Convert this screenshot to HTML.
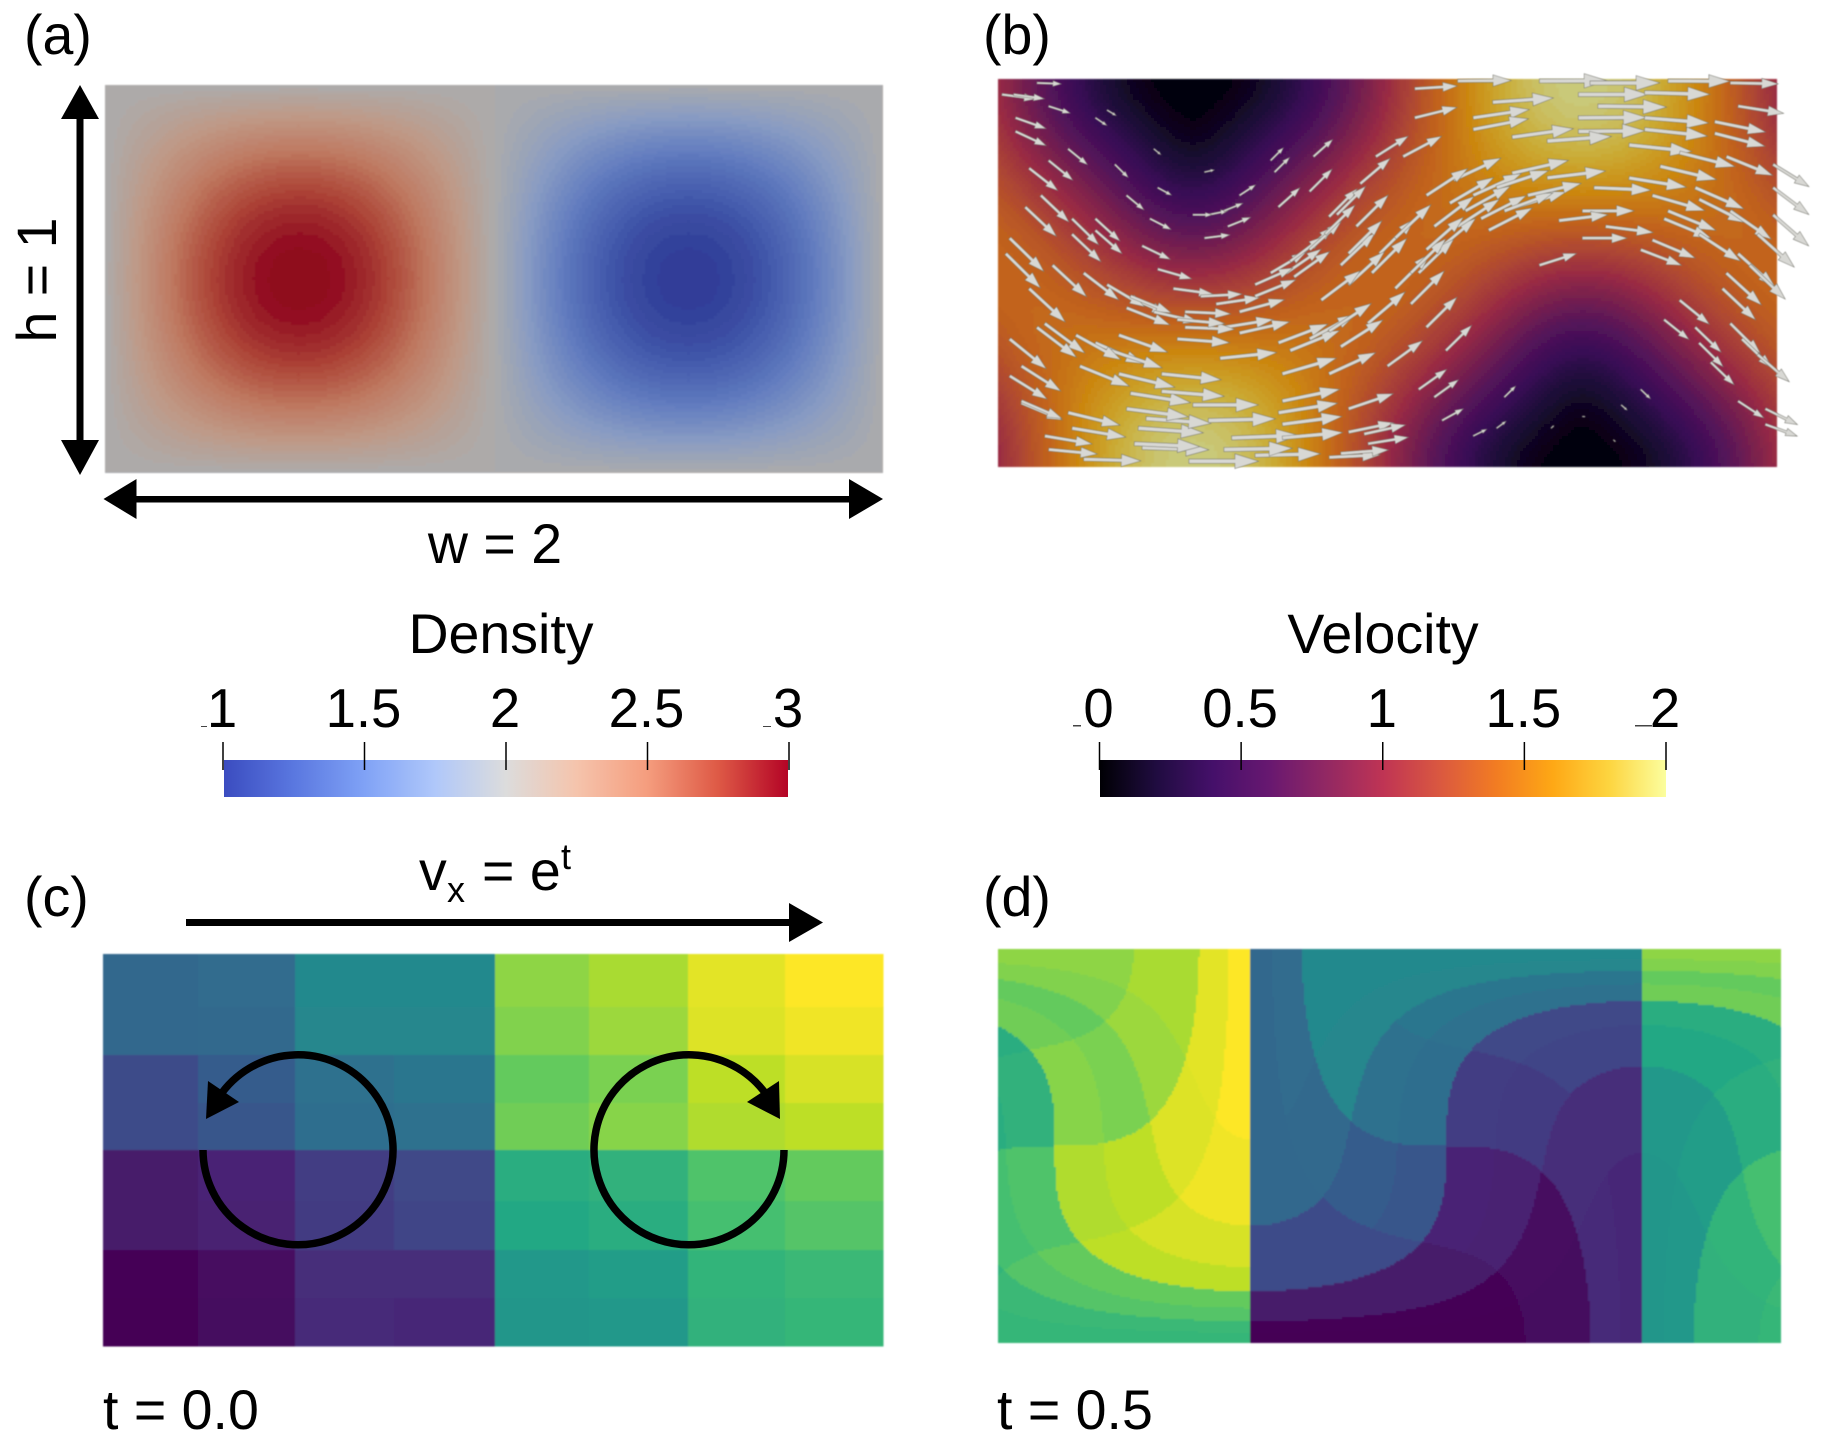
<!DOCTYPE html>
<html lang="en">
<head>
<meta charset="utf-8">
<title>Density and velocity fields</title>
<style>
html,body{margin:0;padding:0;background:#fff;width:1827px;height:1445px;overflow:hidden}
svg{display:block}
text{font-family:"Liberation Sans",sans-serif;font-size:55.5px;fill:#000}
</style>
</head>
<body>
<svg id="figure" xmlns="http://www.w3.org/2000/svg" width="1827" height="1445" viewBox="0 0 1827 1445">
  <defs>
    <filter id="soft" x="-1%" y="-1%" width="102%" height="102%"><feGaussianBlur stdDeviation="0.9"/></filter>
    <filter id="softArrow" x="-5%" y="-5%" width="110%" height="110%"><feGaussianBlur stdDeviation="0.5"/></filter>
    <linearGradient id="densityGradient" x1="0" x2="1" y1="0" y2="0"></linearGradient>
    <linearGradient id="velocityGradient" x1="0" x2="1" y1="0" y2="0"></linearGradient>
  </defs>

  <text x="24" y="54">(a)</text>
  <text x="983" y="54">(b)</text>
  <text x="24" y="916">(c)</text>
  <text x="983" y="916">(d)</text>

  <g id="panelA" filter="url(#soft)"></g>
  <g id="panelB" filter="url(#soft)"></g>
  <g id="arrowsB" filter="url(#softArrow)"></g>
  <g id="panelC" filter="url(#soft)"></g>
  <g id="panelD" filter="url(#soft)"></g>

  <g>
    <rect x="76.5" y="115" width="7" height="328" fill="#000"/>
    <polygon points="80,85 99,119 61,119" fill="#000"/>
    <polygon points="80,475 99,440 61,440" fill="#000"/>
  </g>
  <text x="0" y="0" text-anchor="middle" transform="translate(56 280) rotate(-90)">h = 1</text>

  <g>
    <rect x="132" y="496" width="722" height="6.5" fill="#000"/>
    <polygon points="103.5,499 136.5,479 136.5,519" fill="#000"/>
    <polygon points="883,499 849,479 849,519" fill="#000"/>
  </g>
  <text x="495" y="563" text-anchor="middle">w = 2</text>

  <text x="501" y="653" text-anchor="middle">Density</text>
  <text x="1383" y="653" text-anchor="middle">Velocity</text>
  <rect x="224" y="760" width="564" height="37" fill="url(#densityGradient)"/>
  <rect x="1100" y="760" width="566" height="37" fill="url(#velocityGradient)"/>
  <g id="colorbarTicks" style="font-size:54.5px"></g>
  <g fill="#444">
    <rect x="201" y="726" width="6" height="1"/>
    <rect x="763" y="726" width="8" height="1"/>
    <rect x="1073" y="725" width="8" height="1.5"/>
    <rect x="1635" y="725" width="17" height="1.5"/>
  </g>

  <text x="419" y="890">v</text>
  <text x="447" y="902" style="font-size:36px">x</text>
  <text x="482" y="890">= e</text>
  <text x="561" y="869" style="font-size:36px">t</text>
  <g>
    <rect x="186" y="919" width="608" height="7" fill="#000"/>
    <polygon points="823,922.5 789,903 789,942" fill="#000"/>
  </g>

  <g>
    <path d="M203 1150 A95 95 0 1 0 219 1097" fill="none" stroke="#000" stroke-width="7.5"/>
    <polygon points="206,1119 208,1081 239,1102" fill="#000"/>
  </g>
  <g>
    <path d="M784 1150 A95 95 0 1 1 768 1097" fill="none" stroke="#000" stroke-width="7.5"/>
    <polygon points="780,1119 779,1081 747,1102" fill="#000"/>
  </g>

  <text x="103" y="1429">t = 0.0</text>
  <text x="997" y="1429">t = 0.5</text>
</svg>

<script>
// ---- Colormap data ----
const coolwarmStops = ["#3b4cc0", "#5a78e0", "#80a2f6", "#b0c8fa", "#dcdcdc", "#f5c4ac", "#f59d7e", "#de5a46", "#b40426"];
const viridisStops = ["#440154", "#482475", "#414487", "#355f8d", "#2a788e", "#21918c", "#22a884", "#44bf70", "#7ad151", "#bddf26", "#fde725"];
const infernoStops = ["#000004", "#200c40", "#45106a", "#681870", "#922863", "#bf3454", "#da5840", "#f27c22", "#fea815", "#fdd540", "#fbfe9e"];

// ---- Colorbar data ----
const densityTicks = [1, 1.5, 2, 2.5, 3];
const velocityTicks = [0, 0.5, 1, 1.5, 2];
const densityRange = [1, 3];
const velocityRange = [0, 2];

// ---- Field profiles, sampled every 0.05 across the domain (0..2) ----
const sinProfile = [0, .156, .309, .454, .588, .707, .809, .891, .951, .988, 1, .988, .951, .891, .809, .707, .588, .454, .309, .156, 0, -.156, -.309, -.454, -.588, -.707, -.809, -.891, -.951, -.988, -1, -.988, -.951, -.891, -.809, -.707, -.588, -.454, -.309, -.156, 0];
const cosProfile = [1, .988, .951, .891, .809, .707, .588, .454, .309, .156, 0, -.156, -.309, -.454, -.588, -.707, -.809, -.891, -.951, -.988, -1, -.988, -.951, -.891, -.809, -.707, -.588, -.454, -.309, -.156, 0, .156, .309, .454, .588, .707, .809, .891, .951, .988, 1];
const densityMean = 2;
const densityAmplitude = 1;
const backgroundFlow = 1;
const advectionOffset = 0.645;
const elapsedTime = 0.5;

// ---- Panel (c) tracer values, 8 rows x 8 columns, top row first ----
const tracerRow0 = [.33, .35, .47, .47, .83, .87, .96, 1.0];
const tracerRow1 = [.33, .34, .46, .46, .81, .85, .95, .98];
const tracerRow2 = [.23, .29, .37, .39, .76, .80, .90, .94];
const tracerRow3 = [.23, .27, .36, .37, .78, .82, .88, .90];
const tracerRow4 = [.07, .10, .18, .22, .62, .64, .72, .76];
const tracerRow5 = [.07, .09, .17, .20, .60, .62, .70, .73];
const tracerRow6 = [.01, .04, .13, .13, .53, .55, .65, .67];
const tracerRow7 = [.00, .03, .12, .11, .52, .53, .64, .66];
const tracerRows = [tracerRow0, tracerRow1, tracerRow2, tracerRow3, tracerRow4, tracerRow5, tracerRow6, tracerRow7];
const tracerColEdges = [0, .244, .492, .746, 1.005, 1.246, 1.5, 1.749, 2];
const tracerRowEdges = [0, .135, .258, .38, .5, .63, .755, .878, 1];

// ---- Panel (b) arrow seed points in domain units (x 0..2, y 0..1 upward) ----
const seedX = [1.18,1.39,1.52,1.72,1.88,1.07,.01,1.49,1.66,1.27,1.07,1.54,1.90,1.22,1.49,1.22,1.66,1.84,1.49,1.66,1.32,1.84,1.41,1.62,1.75,1.87,
  1.17,1.32,1.41,1.70,1.62,1.53,1.33,1.50,1.44,1.56,1.50,1.68,1.65,1.39,1.20,1.26,1.13,1.08,
  1.79,1.68,1.99,1.99,1.72,1.80,1.88,1.99,1.71,1.80,1.95,1.90,1.87,1.93,1.86,1.75,1.71,1.80,1.88,1.91,1.83,1.95,1.90,1.97,1.97,1.79,
  .10,.04,.28,.25,.40,.41,.53,.54,.59,.50,.33,.30,.90,.95,.13,
  .045,.045,.18,.13,.08,.11,.07,.19,.25,.25,.19,.03,.02,.14,.08,.12,.03,.06,.03,.06,
  .39,.37,.41,.45,.53,.58,.62,.70,.72,.74,.76,.71,.81,.80,.85,.87,.93,.97,1.04,.88,.92,.98,1.02,.90,.83,.78,1.06,1.10,1.15,.95,.88,.85,1.00,1.12,
  .37,.22,.49,.66,.85,.35,.58,.60,.36,.38,.54,.33,.50,.73,.73,.94,.88,.13,.12,.19,.18,.06,.34,.42,.72,.73,.90,.21,.31,.42,.73,.25,.29,.57,.72,.75,.10,.20,.31,.46,.58,.62,.80,.85,.33,.33,.48,.48,.52,.56,.66,1.08,1.14,1.22,1.28,1.30,1.42,1.50,1.58,1.60,1.65,
  1.10,1.16,1.22,1.28,1.12,1.18,1.24,1.30,1.36,.62,.66,.70,.75,.80,.84,.90,.96,1.02,1.06,1.10,.22,.28,.34,.40,.46];
const seedY = [.995,.995,.99,.995,.99,.975,.96,.96,.965,.94,.90,.93,.93,.90,.90,.87,.90,.89,.865,.87,.85,.86,.84,.83,.81,.80,
  .74,.757,.745,.775,.745,.72,.67,.66,.635,.62,.59,.585,.56,.52,.66,.61,.56,.50,
  .72,.70,.78,.72,.66,.69,.66,.65,.64,.60,.60,.55,.50,.52,.46,.43,.38,.32,.37,.33,.27,.29,.17,.15,.11,.36,
  .99,.96,.92,.90,.82,.72,.76,.65,.62,.65,.70,.78,.09,.06,.93,
  .90,.865,.82,.79,.77,.70,.67,.64,.64,.61,.60,.59,.55,.52,.46,.37,.33,.26,.235,.165,
  .64,.57,.51,.46,.59,.66,.70,.79,.67,.50,.49,.76,.80,.71,.645,.65,.73,.80,.80,.52,.62,.55,.59,.47,.43,.55,.42,.36,.30,.37,.31,.24,.26,.18,
  .05,.02,.015,.03,.025,.06,.045,.075,.10,.125,.12,.15,.16,.11,.075,.085,.035,.045,.08,.10,.14,.17,.19,.195,.14,.17,.15,.26,.24,.24,.24,.32,.30,.28,.32,.30,.36,.34,.34,.33,.36,.345,.33,.35,.44,.41,.36,.40,.44,.42,.47,.20,.12,.08,.10,.18,.10,.13,.07,.16,.20,
  .70,.68,.70,.72,.62,.62,.64,.66,.70,.40,.44,.50,.53,.56,.60,.55,.50,.46,.50,.56,.50,.47,.44,.40,.38];

// ---- Axis functions ----
const panelAX = x => 105 + x / 2 * 778;
const panelAY = y => 85 + (1 - y) * 388;
const panelBX = x => 998 + x / 2 * 779;
const panelBY = y => 79 + (1 - y) * 388;
const panelCX = x => 103 + x / 2 * 780;
const panelCY = f => 954 + f * 392;
const densityBarX = v => 223 + (v - densityRange[0]) / (densityRange[1] - densityRange[0]) * 566;
const velocityBarX = v => 1099.5 + (v - velocityRange[0]) / (velocityRange[1] - velocityRange[0]) * 566.5;

// ---- Helpers ----
const NS = "http://www.w3.org/2000/svg";
function make(tag, parentEl) {
  const el = document.createElementNS(NS, tag);
  parentEl.appendChild(el);
  return el;
}
function hexRgb(h) {
  return [parseInt(h.slice(1, 3), 16), parseInt(h.slice(3, 5), 16), parseInt(h.slice(5, 7), 16)];
}
function sampleMap(stops, t, light) {
  const c = Math.max(0, Math.min(1, t)) * (stops.length - 1);
  const i = Math.min(stops.length - 2, Math.floor(c));
  const f = c - i;
  const a = hexRgb(stops[i]);
  const b = hexRgb(stops[i + 1]);
  const r = [0, 1, 2].map(k => Math.round((a[k] + (b[k] - a[k]) * f) * light));
  return "rgb(" + r[0] + "," + r[1] + "," + r[2] + ")";
}
function profile(table, x) {
  let m = x % 2;
  if (m < 0) m += 2;
  const p = m / 0.05;
  const i = Math.min(table.length - 2, Math.floor(p));
  return table[i] + (table[i + 1] - table[i]) * (p - i);
}
const sinAt = x => profile(sinProfile, x);
const cosAt = x => profile(cosProfile, x);

function flowU(x, y) { return sinAt(x) * cosAt(y); }
function flowV(x, y) { return -cosAt(x) * sinAt(y); }

// Draw a scalar field as one path per colour level, merging horizontal runs.
function drawField(parentEl, name, xOf, yOf, valueAt, levels, colorOf, step) {
  const left = Math.round(xOf(0)), right = Math.round(xOf(2));
  const top = Math.round(yOf(1)), bottom = Math.round(yOf(0));
  const runs = {};
  for (let py = top; py < bottom; py += step) {
    const y = 1 - (py + step / 2 - top) / (bottom - top);
    let start = left, cur = -1;
    for (let px = left; ; px += step) {
      const atEnd = px >= right;
      let lv = -2;
      if (!atEnd) {
        const x = (px + step / 2 - left) / (right - left) * 2;
        lv = Math.max(0, Math.min(levels - 1, Math.floor(valueAt(x, y) * levels)));
      }
      if (lv !== cur) {
        if (cur >= 0) {
          const w = Math.min(px, right) - start;
          const h = Math.min(step, bottom - py);
          runs[cur] = (runs[cur] || "") + "M" + start + " " + py + "h" + w + "v" + h + "h" + (-w) + "z";
        }
        start = px;
        cur = lv;
      }
      if (atEnd) break;
    }
  }
  Object.keys(runs).forEach(k => {
    const band = make("path", parentEl);
    
    
    band.setAttribute("d", runs[k]);
    band.setAttribute("fill", colorOf((+k + 0.5) / levels));
    band.setAttribute("shape-rendering", "crispEdges");
  });
}

// ---- Panel (a): density ----
drawField(document.getElementById("panelA"), "density-band", panelAX, panelAY,
  (x, y) => ((densityMean + densityAmplitude * sinAt(x) * sinAt(y)) - densityRange[0]) / (densityRange[1] - densityRange[0]),
  56, t => sampleMap(coolwarmStops, t, 0.78), 3);

// ---- Panel (b): velocity magnitude ----
function speedAt(x, y) {
  const u = backgroundFlow + flowU(x, y);
  const v = flowV(x, y);
  return Math.sqrt(u * u + v * v);
}
drawField(document.getElementById("panelB"), "velocity-band", panelBX, panelBY,
  (x, y) => (speedAt(x, y) - velocityRange[0]) / (velocityRange[1] - velocityRange[0]),
  72, t => sampleMap(infernoStops, t, 0.8), 3);

// ---- Panel (b): arrows ----
const arrowLayer = document.getElementById("arrowsB");
seedX.forEach((sx, i) => {
  const sy = seedY[i];
  const u = backgroundFlow + flowU(sx, sy);
  const v = flowV(sx, sy);
  const len = 35 * Math.sqrt(u * u + v * v);
  if (len < 0.5) return;
  const dx = u * 35 / len, dy = -v * 35 / len;
  const nx = -dy, ny = dx;
  const x0 = panelBX(sx), y0 = panelBY(sy);
  const sh = 0.024 * len + 0.4, hw = 0.1 * len + 0.4, hl = 0.34 * len;
  const bx = x0 + dx * (len - hl), by = y0 + dy * (len - hl);
  const tx = x0 + dx * len, ty = y0 + dy * len;
  const pts = [
    [x0 + nx * sh, y0 + ny * sh], [bx + nx * sh, by + ny * sh], [bx + nx * hw, by + ny * hw], [tx, ty],
    [bx - nx * hw, by - ny * hw], [bx - nx * sh, by - ny * sh], [x0 - nx * sh, y0 - ny * sh]
  ];
  const arrow = make("polygon", arrowLayer);
  
  
  arrow.setAttribute("points", pts.map(p => p[0].toFixed(1) + "," + p[1].toFixed(1)).join(" "));
  arrow.setAttribute("fill", "#d8d8d4");
  arrow.setAttribute("stroke", "#7d7d74");
  arrow.setAttribute("stroke-width", "0.6");
});

// ---- Panel (c): tracer cells ----
const panelC = document.getElementById("panelC");
tracerRows.forEach((row, r) => {
  row.forEach((value, c) => {
    const cell = make("rect", panelC);
    
    
    cell.setAttribute("x", panelCX(tracerColEdges[c]));
    cell.setAttribute("y", panelCY(tracerRowEdges[r]));
    cell.setAttribute("width", panelCX(tracerColEdges[c + 1]) - panelCX(tracerColEdges[c]) + 0.5);
    cell.setAttribute("height", panelCY(tracerRowEdges[r + 1]) - panelCY(tracerRowEdges[r]) + 0.5);
    cell.setAttribute("fill", sampleMap(viridisStops, value, 1));
    cell.setAttribute("shape-rendering", "crispEdges");
  });
});

// ---- Panel (d): the same tracer values carried back along the flow ----
(function drawAdvected() {
  const left = 998, right = 1781, top = 949, bottom = 1343, step = 2, substeps = 8;
  const layer = document.getElementById("panelD");
  const runs = {};
  const dt = elapsedTime / substeps;
  for (let py = top; py < bottom; py += step) {
    const y0 = 1 - (py + step / 2 - top) / (bottom - top);
    let start = left, cur = null;
    for (let px = left; ; px += step) {
      const atEnd = px >= right;
      let key = null;
      if (!atEnd) {
        let x = ((px + step / 2 - left) / (right - left) * 2 - advectionOffset + 2) % 2;
        let y = y0;
        for (let s = 0; s < substeps; s++) {
          const mx = x - 0.5 * dt * flowU(x, y);
          const my = y - 0.5 * dt * flowV(x, y);
          const nx = x - dt * flowU(mx, my);
          const ny = y - dt * flowV(mx, my);
          x = nx; y = ny;
        }
        x = ((x % 2) + 2) % 2;
        const col = Math.max(0, Math.min(7, Math.floor(x * 4)));
        const row = Math.max(0, Math.min(7, Math.floor((1 - y) * 8)));
        key = row + "_" + col;
      }
      if (key !== cur) {
        if (cur !== null) {
          const w = Math.min(px, right) - start;
          const h = Math.min(step, bottom - py);
          runs[cur] = (runs[cur] || "") + "M" + start + " " + py + "h" + w + "v" + h + "h" + (-w) + "z";
        }
        start = px;
        cur = key;
      }
      if (atEnd) break;
    }
  }
  Object.keys(runs).forEach(k => {
    const parts = k.split("_");
    const region = make("path", layer);
    
    
    region.setAttribute("d", runs[k]);
    region.setAttribute("fill", sampleMap(viridisStops, tracerRows[+parts[0]][+parts[1]], 1));
    region.setAttribute("shape-rendering", "crispEdges");
  });
})();

// ---- Colorbars ----
function fillGradient(id, stops) {
  const g = document.getElementById(id);
  const n = 40;
  for (let i = 0; i <= n; i++) {
    const s = make("stop", g);
    s.setAttribute("offset", (i / n).toString());
    s.setAttribute("stop-color", sampleMap(stops, i / n, 1));
  }
}
fillGradient("densityGradient", coolwarmStops);
fillGradient("velocityGradient", infernoStops);

const tickLayer = document.getElementById("colorbarTicks");
densityTicks.forEach(v => {
  const x = densityBarX(v);
  const tick = make("line", tickLayer);
  
  
  tick.setAttribute("x1", x);
  tick.setAttribute("x2", x);
  tick.setAttribute("y1", 742);
  tick.setAttribute("y2", 770);
  tick.setAttribute("stroke", "#000");
  tick.setAttribute("stroke-width", 1.5);
  const label = make("text", tickLayer);
  
  
  label.setAttribute("x", x - 1);
  label.setAttribute("y", 727);
  label.setAttribute("text-anchor", "middle");
  label.setAttribute("style", "font-size:54.5px");
  label.textContent = String(v);
});
velocityTicks.forEach(v => {
  const x = velocityBarX(v);
  const tick = make("line", tickLayer);
  
  
  tick.setAttribute("x1", x);
  tick.setAttribute("x2", x);
  tick.setAttribute("y1", 742);
  tick.setAttribute("y2", 770);
  tick.setAttribute("stroke", "#000");
  tick.setAttribute("stroke-width", 1.5);
  const label = make("text", tickLayer);
  
  
  label.setAttribute("x", x - 1);
  label.setAttribute("y", 727);
  label.setAttribute("text-anchor", "middle");
  label.setAttribute("style", "font-size:54.5px");
  label.textContent = String(v);
});
</script>
</body>
</html>
